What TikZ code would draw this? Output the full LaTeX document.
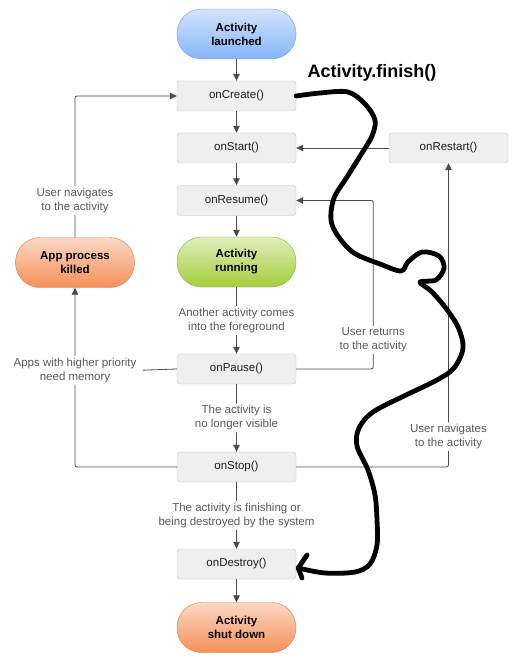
\documentclass[tikz,border=0pt]{standalone}
\usepackage{fontspec}
\setmainfont{Liberation Sans}
\usepackage{tikz}
\usetikzlibrary{calc,arrows.meta,positioning}
\definecolor{boxfill}{HTML}{EFEFEF}
\definecolor{boxline}{HTML}{C6C6C6}
\definecolor{boxtext}{HTML}{1E1E1E}
\definecolor{notegray}{HTML}{5A5A5A}
\definecolor{linegray}{HTML}{4A4A4A}
\tikzset{
	state/.style={
		draw=boxline, rectangle, rounded corners=3pt, fill=boxfill,
		minimum width=119pt, minimum height=30pt,
		inner sep=0pt, text=boxtext,
		font=\fontsize{11.5}{14}\selectfont
	},
	terminal/.style 2 args={
		draw=#2, rectangle, rounded corners=24.5pt,
		minimum width=119pt, minimum height=50pt,
		top color=#1!35, bottom color=#1, inner sep=0pt,
		align=center, text=black,
		font=\fontsize{11.5}{14}\selectfont\bfseries
	},
}
\definecolor{blueend}{RGB}{132,180,246}
\definecolor{blueline}{RGB}{108,158,220}
\definecolor{greenend}{RGB}{164,206,60}
\definecolor{greenline}{RGB}{138,178,58}
\definecolor{orangeend}{RGB}{245,144,88}
\definecolor{orangeline}{RGB}{214,128,84}

\begin{document}
\begin{tikzpicture}[x=1pt, y=-1pt,
			flow_arrow/.style={draw=linegray, line width=0.8pt, rounded corners=2pt,
				-{Triangle[length=7pt,width=6.5pt]}},
			plain_line/.style={draw=linegray, line width=0.8pt},
			note/.style={fill=white, text=notegray, align=center, inner sep=2pt,
				font=\fontsize{11.5}{14}\selectfont},
			scribble/.style={line width=4.8pt, black, line cap=round, line join=round}]
		\fill[white] (0,0) rectangle (513,663);
		\useasboundingbox (0,0) rectangle (513,663);
		\node[terminal={blueend}{blueline}]     (launched) at (236.5,34)    {Activity\\launched};
		\node[state]                            (create)   at (236.5,96)    {onCreate()};
		\node[state]                            (start)    at (236.5,148)   {onStart()};
		\node[state]                            (resume)   at (236.5,200.5) {onResume()};
		\node[terminal={greenend}{greenline}]   (running)  at (236.5,262)   {Activity\\running};
		\node[state]                            (pause)    at (236.5,369)   {onPause()};
		\node[state]                            (stop)     at (236.5,467)   {onStop()};
		\node[state]                            (destroy)  at (236.5,564)   {onDestroy()};
		\node[terminal={orangeend}{orangeline}] (shutdown) at (236.5,627.5) {Activity\\shut down};
		\node[terminal={orangeend}{orangeline}] (killed)   at (75,262.5)    {App process\\killed};
		\node[state]                            (restart)  at (448.5,148)   {onRestart()};
		\node[font=\fontsize{18}{20}\selectfont\bfseries, text=black] (finish) at (372,73) {Activity.finish()};
		\draw[flow_arrow] (launched) -- (create);
		\draw[flow_arrow] (create) -- (start);
		\draw[flow_arrow] (start) -- (resume);
		\draw[flow_arrow] (resume) -- (running);
		\draw[flow_arrow] (running) -- node[note] {Another activity comes\\into the foreground} (pause);
		\draw[flow_arrow] (pause) -- node[note] {The activity is\\no longer visible} (stop);
		\draw[flow_arrow] (stop) -- node[note] {The activity is finishing or\\being destroyed by the system} (destroy);
		\draw[flow_arrow] (destroy) -- (shutdown);
		\draw[flow_arrow] (restart) -- (start);
		\draw[flow_arrow] (killed.north) |- node[note, pos=0.13] {User navigates\\to the activity} (create.west);
		\draw[flow_arrow] (stop.west) -| node[note, pos=0.77] (memory) {Apps with higher priority\\need memory} (killed.south);
		\draw[plain_line] (pause.west) -- ([xshift=4pt]memory.east);
		\draw[flow_arrow] (pause.east) -- ++(77,0) |- node[note, pos=0.086] {User returns\\to the activity} (resume.east);
		\draw[flow_arrow] (stop.east) -| node[note, pos=0.55] {User navigates\\to the activity} (restart.south);
		\coordinate (tip) at ([shift={(2,4)}]destroy.east);
		\draw[scribble] plot[smooth, tension=0.55] coordinates {
			(create.east) (320,93) (348,92) (365,104) (375,120) (372,136) (362,153)
			(347,177) (334,198) (331,220) (338,236) (354,253) (380,264) (401,271)
			(408,262) (422,252) (439,256) (444,268) (436,280) (420,282)
			(431,291) (445,307) (458,327) (463,348) (454,368) (437,380) (404,396)
			(373,412) (359,428) (357,446) (368,470) (375,495) (377,520) (377,545)
			(370,564) (355,572) (325,573) (tip)};
		\draw[scribble] (307,555) -- (tip) -- (302,578);
	\end{tikzpicture}
\end{document}
